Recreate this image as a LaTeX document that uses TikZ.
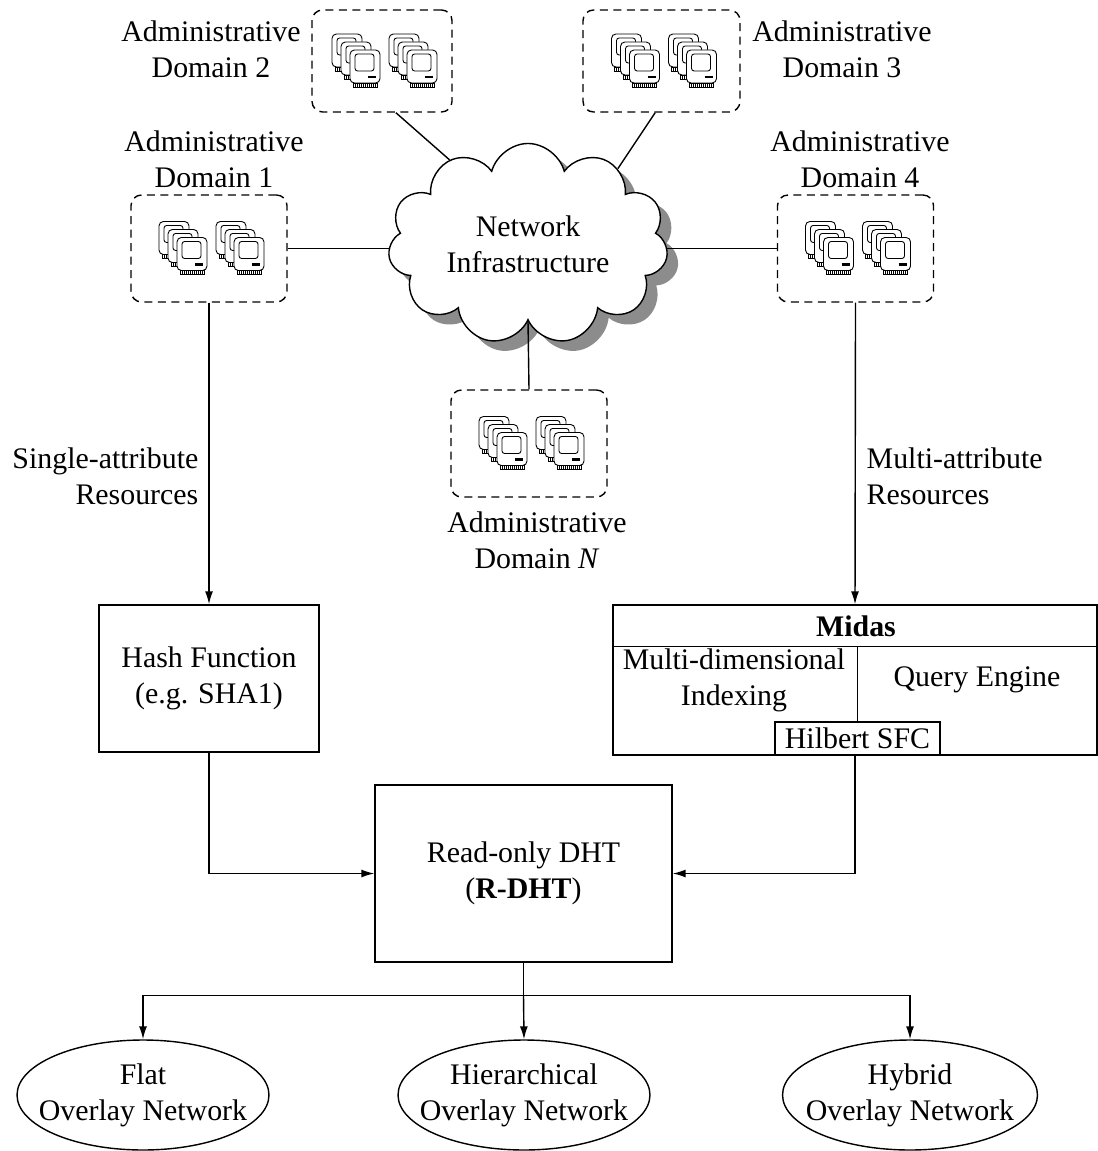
\documentclass[tikz,border=0pt]{standalone}
\usepackage{fontspec}
\setmainfont{Liberation Serif}
\usetikzlibrary{arrows.meta, shapes.geometric, shapes.symbols, shadows}

\tikzset{
  mac/.pic={
    \draw[line width=0.5pt, rounded corners=2.5pt, fill=white] (0,0) rectangle (30,33);
    \draw[line width=0.5pt, rounded corners=1.5pt] (5,4) rectangle (24,21);
    \draw[line width=1.2pt] (18,27) -- (26,27);
    \draw[line width=0.5pt, fill=white] (3,33) rectangle (27,37);
    \foreach \k in {5,7,...,25}
      \draw[line width=0.3pt] (\k,33) -- (\k,37);
  },
  macstack/.pic={
    \pic at (0,0) {mac};
    \pic at (9,8) {mac};
    \pic at (18,16) {mac};
  },
  servers/.pic={
    \pic at (-50,-27) {macstack};
    \pic at (7,-27) {macstack};
  }
}

\begin{document}
\begin{tikzpicture}[x=0.02cm, y=-0.02cm, line width=0.8pt,
    font=\fontsize{17}{20.5}\selectfont,
    >={Latex[length=2.6mm,width=1.6mm]},
    admbox/.style={draw, dash pattern=on 1.6mm off 1.1mm, rounded corners=6pt,
      minimum width=3.12cm, minimum height=2.14cm},
    block/.style={draw, align=center, inner sep=0pt},
    netell/.style={draw, ellipse, align=center, inner xsep=-13pt, inner ysep=0pt,
      minimum width=5.04cm, minimum height=2.2cm},
    txt/.style={align=center, inner sep=0pt}]
  \useasboundingbox (0,0) rectangle (1097,1151);

  % network cloud
  \node[draw, cloud, cloud puffs=11, aspect=1.6, fill=white, align=center,
    minimum width=5.6cm, minimum height=3.5cm,
    drop shadow={shadow xshift=0.22cm, shadow yshift=-0.2cm, fill=black!45, opacity=1}]
    (net) at (528,244) {Network\\Infrastructure};

  % administrative domains
  \node[admbox, minimum width=2.8cm, minimum height=2.04cm] (d2) at (382,61) {};
  \node[admbox, minimum width=3.14cm, minimum height=2.04cm] (d3) at (661.5,61) {};
  \node[admbox] (d1) at (209,248.5) {};
  \node[admbox] (d4) at (855.5,248.5) {};
  \node[admbox] (dn) at (529,443.5) {};
  \foreach \d in {d1,d2,d3,d4,dn}
    \pic at (\d) {servers};

  \node[txt] at (211,49) {Administrative\\Domain 2};
  \node[txt] at (842,49) {Administrative\\Domain 3};
  \node[txt] at (214,159) {Administrative\\Domain 1};
  \node[txt] at (860,159) {Administrative\\Domain 4};
  \node[txt] at (537,540) {Administrative\\Domain \textit{N}};

  \draw (d2.285) -- (net.133);
  \draw (d3.263) -- (net.40);
  \draw (d1.east) -- (d1.east -| net.west);
  \draw (d4.west) -- (d4.west -| net.east);
  \draw (dn.north) -- (net.south);

  % indexing
  \node[block, minimum width=4.4cm, minimum height=2.94cm] (hash) at (209,678.5)
    {Hash Function\\(e.g. SHA1)};
  \node[block, minimum width=9.68cm, minimum height=3cm] (midas) at (855,680) {};
  \draw (midas.north west) ++(0,42) coordinate (mh) -- (mh -| midas.east);
  \node[txt] at (856,626) {\bfseries Midas};
  \node[block, fill=white, minimum width=3.3cm, minimum height=0.66cm] (sfc)
    at (857.5,738.5) {Hilbert SFC};
  \draw (mh -| sfc.north) -- (sfc.north);
  \node[txt] at (734,680) {Multi-dimensional\\Indexing};
  \node[txt] at (977,680) {Query Engine};

  \draw[->] (d1.south) -- (hash.north);
  \draw[->] (d4.south) -- (midas.north);
  \node[txt, anchor=east, align=right] at (199,476) {Single-attribute\\Resources};
  \node[txt, anchor=west, align=left] at (866,476) {Multi-attribute\\Resources};

  % R-DHT and overlays
  \node[block, minimum width=5.94cm, minimum height=3.54cm] (rdht) at (523.5,873.5)
    {Read-only DHT\\(\textbf{R-DHT})};
  \draw[->] (hash.south) |- (rdht.west);
  \draw[->] (midas.south) |- (rdht.east);

  \node[netell] (flat) at (143,1095) {Flat\\Overlay Network};
  \node[netell] (hier) at (524,1095) {Hierarchical\\Overlay Network};
  \node[netell, minimum width=5.1cm] (hybrid) at (910,1095) {Hybrid\\Overlay Network};

  \draw (rdht.south) -- ++(0,33) coordinate (fork);
  \draw[->] (fork) -| (flat.north);
  \draw[->] (fork) -- (hier.north);
  \draw[->] (fork) -| (hybrid.north);
\end{tikzpicture}
\end{document}
